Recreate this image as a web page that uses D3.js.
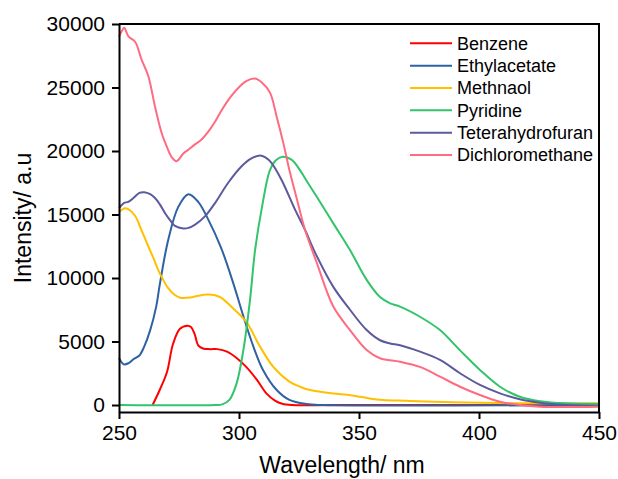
<!DOCTYPE html>
<html><head><meta charset="utf-8">
<script src="https://cdn.jsdelivr.net/npm/d3@7"></script>
<style>body{margin:0;background:#fff}svg{display:block}text{font-family:"Liberation Sans",Arial,sans-serif;fill:#000}</style>
</head><body>
<svg id="c" width="618" height="479"></svg>
<script>
const seriesNames = ["Benzene","Ethylacetate","Methnaol","Pyridine","Teterahydrofuran","Dichloromethane"];
const seriesColors = ["#ff0000","#2e62a3","#ffc000","#33c46b","#5b5a9c","#ff6b80"];
const xTicks = [250,300,350,400,450];
const yTicks = [0,5000,10000,15000,20000,25000,30000];

const benzene = [[264,0],[267,1200],[270,2600],[272.5,4800],[275.4,6000],[278.5,6250],[280,6150],[281.5,5600],[283,4700],[285,4450],[288,4400],[291,4400],[295,4200],[299,3700],[303,3000],[307.4,2000],[311.5,900],[315,350],[318,100],[322,0],[340,0],[400,0],[450,0]];
const ethylacetate = [[250,3700],[252,3200],[254,3300],[256,3600],[258.5,3900],[260.5,4600],[263,5900],[265.5,7750],[267,9500],[270.5,13000],[274.7,15600],[278.9,16600],[283,16000],[287.2,14600],[292.5,12400],[297.6,9600],[301.8,7000],[306,4600],[310,2760],[315.7,1180],[321,400],[328,80],[335,0],[450,0]];
const methnaol = [[250,15200],[252.5,15500],[254,15400],[256.7,14900],[259.5,13700],[262.2,12500],[264.5,11500],[266.4,10600],[268,10000],[270.5,9200],[273,8700],[275.5,8450],[279.6,8460],[283,8600],[286.5,8700],[290,8650],[292.5,8450],[297.6,7600],[303.2,6500],[308.75,4600],[314.3,3000],[321,1840],[325.4,1440],[329.6,1180],[339.3,900],[345,800],[350.4,650],[355,500],[360,400],[370,330],[381,260],[395,200],[408,150],[420,130],[450,130]];
const pyridine = [[250,0],[290,0],[293,50],[296,400],[299,1700],[301.8,4300],[304.6,8300],[306.7,12200],[309.5,15500],[312.9,18500],[315.5,19300],[318.3,19550],[322,19300],[325.4,18500],[328,17700],[332.4,16400],[339.3,14300],[346.25,12200],[353.2,9850],[358.75,8500],[363,8000],[367.1,7750],[375.4,6950],[383.75,5900],[392.1,4300],[400.4,2760],[408.75,1440],[417,650],[425.4,300],[436.6,130],[450,80]];
const thf = [[250,15500],[252,15900],[253.9,16000],[256,16300],[258.5,16700],[260.5,16750],[263,16600],[265,16300],[267,15800],[269.2,15100],[271.5,14500],[273.3,14100],[276.8,13900],[279,13950],[281.7,14200],[285.8,14850],[290,15900],[295.5,17500],[301.1,18800],[305,19400],[308.75,19650],[311,19500],[313.6,19050],[317.8,17700],[323.3,15400],[327.5,13800],[331.7,12000],[339.3,9300],[346.25,7500],[353.2,5900],[358.75,5100],[363,4850],[367.1,4700],[375.4,4200],[383.75,3550],[392.1,2500],[400.4,1580],[408.75,920],[417,450],[425.4,180],[436.6,0],[450,-80]];
const dcm = [[250,29000],[251,29400],[252.2,29700],[253.2,29300],[254,29000],[256.7,28600],[259.4,27200],[262.2,25900],[265,23500],[267.8,21400],[270,20300],[272,19500],[274,19200],[276.8,19800],[278.9,20100],[281.5,20500],[284.4,20900],[287.9,21700],[290,22300],[292.1,23000],[296.25,24200],[300.4,25100],[303,25500],[306.5,25700],[309.5,25400],[312.9,24600],[315.7,22700],[318.5,20600],[321.25,18300],[324,16300],[327.5,13800],[332.4,11200],[339.3,7750],[346.25,5900],[353.2,4330],[358.75,3680],[367.1,3400],[375.4,3000],[383.75,2230],[392.1,1440],[400.4,790],[408.75,260],[417,0],[425.4,-130],[450,-130]];
const seriesData = [benzene, ethylacetate, methnaol, pyridine, thf, dcm];

const svg = d3.select("#c");
const L = 119, R = 599, T = 24, B = 412;
const x = d3.scaleLinear().domain([250,450]).range([L,R]);
const y = d3.scaleLinear().domain([-550,30000]).range([B,T]);

const line = d3.line().x(d=>x(d[0])).y(d=>y(d[1])).curve(d3.curveCatmullRom.alpha(0.5));
const g = svg.append("g");
seriesData.forEach((s,i)=>{
  g.append("path").attr("d", line(s)).attr("fill","none")
   .attr("stroke", seriesColors[i]).attr("stroke-width",2).attr("stroke-linejoin","round");
});

// box
svg.append("path").attr("d",`M${L},${T}H${R}V${B}`).attr("fill","none").attr("stroke","#000").attr("stroke-width",2);

const xa = svg.append("g").attr("transform",`translate(0,${B})`)
  .call(d3.axisBottom(x).tickValues(xTicks).tickSize(7).tickPadding(6).tickSizeOuter(0).tickFormat(d3.format("d")));
const ya = svg.append("g").attr("transform",`translate(${L},0)`)
  .call(d3.axisLeft(y).tickValues(yTicks).tickSize(7).tickPadding(7).tickSizeOuter(0).tickFormat(d3.format("d")));
[xa,ya].forEach(a=>{
  a.select(".domain").attr("stroke","#000").attr("stroke-width",2);
  a.selectAll(".tick line").attr("stroke","#000").attr("stroke-width",2);
  a.selectAll(".tick text").attr("font-size",21).attr("font-family",'"Liberation Sans",Arial,sans-serif').attr("fill","#000");
});

svg.append("text").attr("x",342).attr("y",473).attr("text-anchor","middle").attr("font-size",23).text("Wavelength/ nm");
svg.append("text").attr("transform","translate(31,218) rotate(-90)").attr("text-anchor","middle").attr("font-size",23).text("Intensity/ a.u");

const lg = svg.append("g");
seriesNames.forEach((n,i)=>{
  const yy = 43.3 + i*22.35;
  lg.append("line").attr("x1",410).attr("x2",452).attr("y1",yy).attr("y2",yy).attr("stroke",seriesColors[i]).attr("stroke-width",2);
  lg.append("text").attr("x",457).attr("y",yy).attr("dy","0.35em").attr("font-size",18).text(n);
});
</script>
</body></html>
